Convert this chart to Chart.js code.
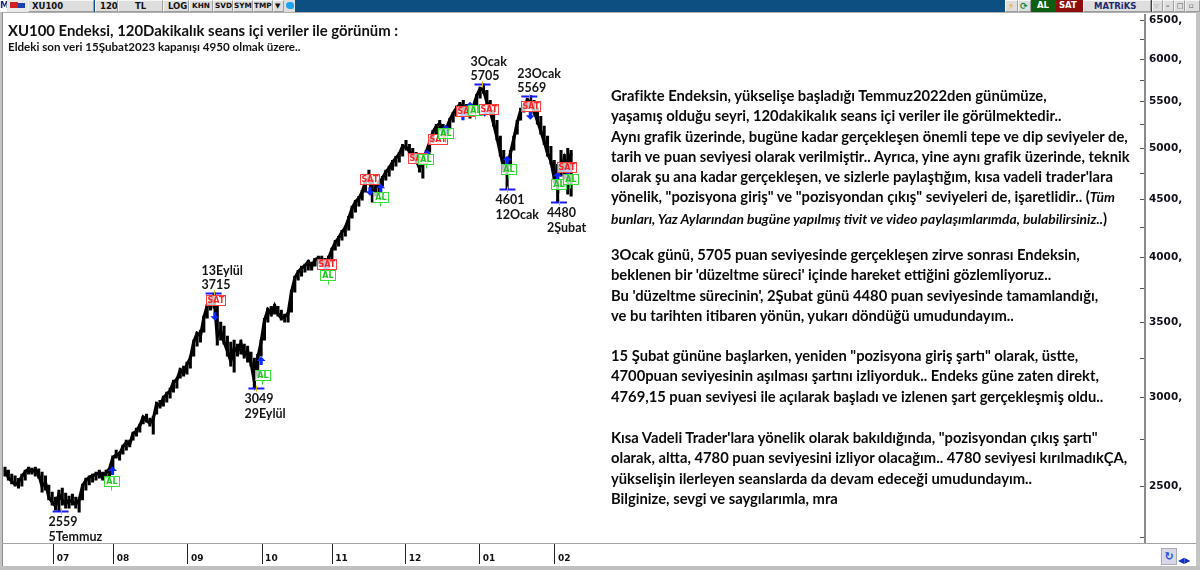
<!DOCTYPE html>
<html lang="tr">
<head>
<meta charset="utf-8">
<title>XU100 120dk</title>
<script src="https://cdn.jsdelivr.net/npm/chart.js@4.4.1/dist/chart.umd.min.js"></script>
<style>
  html,body{margin:0;padding:0;background:#fff;}
  body{width:1200px;height:586px;position:relative;overflow:hidden;}
  #c{position:absolute;left:0;top:0;z-index:1;}
  .ov{position:absolute;z-index:2;}
  .tb{position:absolute;top:0;height:12px;box-sizing:border-box;font:bold 8.5px "DejaVu Sans",sans-serif;line-height:10px;color:#111;white-space:nowrap;overflow:hidden;z-index:3;}
  .sm{font-size:7.3px;}
  .gb{background:#dedede;border:1px solid #9c9c9c;border-top-color:#f6f6f6;border-left-color:#f6f6f6;}
  .t{position:absolute;font-family:Lato,sans-serif;font-weight:bold;color:#111;white-space:nowrap;z-index:3;}
  .blk{position:absolute;left:611px;font-family:Lato,sans-serif;font-weight:bold;color:#0a0a0a;font-size:14.75px;line-height:20.3px;white-space:nowrap;z-index:3;}
  .it{font-style:italic;}
</style>
</head>
<body>
<!-- top toolbar -->
<div class="tb" style="left:0;width:1200px;background:#0c4f80;"></div>
<div class="tb" style="left:0;width:7px;background:#fff;color:#1c2a80;font-size:9px;padding-left:0;">M</div>
<div class="tb" style="left:7px;width:21px;background:#e8e8e8;"><div style="position:absolute;left:3px;top:2px;width:8px;height:6px;background:#d02020;"></div><div style="position:absolute;left:11px;top:3px;width:7px;height:5px;background:#2040b0;"></div></div>
<div class="tb gb" style="left:28px;width:66px;padding-left:3px;">XU100</div>
<div class="tb gb" style="left:95px;width:23px;padding-left:4px;">120</div>
<div class="tb gb" style="left:118px;width:45px;padding-left:16px;">TL</div>
<div class="tb gb" style="left:163px;width:26px;padding-left:4px;">LOG</div>
<div class="tb gb sm" style="left:189px;width:24px;padding-left:2px;">KHN</div>
<div class="tb gb sm" style="left:213px;width:20px;padding-left:1px;">SVD</div>
<div class="tb gb sm" style="left:233px;width:20px;padding-left:0px;">SYM</div>
<div class="tb gb sm" style="left:253px;width:20px;padding-left:0px;">TMP</div>
<div class="tb gb" style="left:273px;width:11px;font-size:7px;padding-left:1px;">&#9660;</div>
<div class="tb" style="left:284px;width:11px;background:#dedede;"><div style="position:absolute;left:2px;top:2px;width:8px;height:7px;border-radius:50% 50% 40% 60%;background:#1da1f2;"></div></div>
<div class="tb gb" style="left:1005px;width:13px;color:#f0a000;font-size:9px;padding-left:2px;">&#9889;</div>
<div class="tb gb" style="left:1018px;width:13px;color:#0a8a3a;font-size:9px;padding-left:1px;">&#10227;</div>
<div class="tb" style="left:1032px;width:24px;background:#0e5e12;color:#fff;padding-left:5px;">AL</div>
<div class="tb" style="left:1056px;width:27px;background:#8e0d0d;color:#fff;padding-left:3px;">SAT</div>
<div class="tb gb" style="left:1083px;width:68px;color:#1e2a6e;padding-left:10px;">MATRiKS</div>
<div class="tb gb" style="left:1152px;width:11px;color:#999;font-size:6px;padding-left:1px;">&#9661;</div>
<div class="tb gb" style="left:1163px;width:11px;color:#555;font-size:7px;padding-left:2px;">&#8211;</div>
<div class="tb gb" style="left:1174px;width:11px;color:#555;font-size:7px;padding-left:2px;">&#9633;</div>
<div class="tb gb" style="left:1185px;width:15px;color:#555;font-size:7px;padding-left:3px;">&#9643;</div>

<!-- window frame -->
<div class="ov" style="left:0;top:12px;width:1200px;height:1px;background:#b0b0b0;"></div>
<div class="ov" style="left:0;top:12px;width:2px;height:558px;background:#c4c4c4;"></div>
<div class="ov" style="left:2px;top:12px;width:1px;height:555px;background:#8c8c8c;"></div>
<div class="ov" style="left:1196px;top:12px;width:4px;height:558px;background:#c4c4c4;"></div>
<div class="ov" style="left:2px;top:543px;width:1194px;height:1px;background:#a4a4a4;"></div>
<div class="ov" style="left:0;top:566px;width:1200px;height:4px;background:#c0c0c0;"></div>
<div class="ov" style="left:1161px;top:548px;width:16px;height:17px;background:#d8d8e8;border:1px solid #aab;box-sizing:border-box;color:#1f4fd0;font:bold 11px 'DejaVu Sans';text-align:center;line-height:15px;">&#8635;</div>
<div class="ov" style="left:1178px;top:556px;width:17px;height:9px;color:#1030c0;font:8px 'DejaVu Sans';line-height:9px;">&#9664;&#9654;</div>

<!-- titles -->
<div class="t" style="left:8px;top:21px;font-size:14.9px;">XU100 Endeksi, 120Dakikalık seans içi veriler ile görünüm :</div>
<div class="t" style="left:8px;top:40px;font-size:11.6px;">Eldeki son veri 15Şubat2023 kapanışı 4950 olmak üzere..</div>

<!-- commentary -->
<div class="blk" style="top:85px;">
<div>Grafikte Endeksin, yükselişe başladığı Temmuz2022den günümüze,</div>
<div>yaşamış olduğu seyri, 120dakikalık seans içi veriler ile görülmektedir..</div>
<div>Aynı grafik üzerinde, bugüne kadar gerçekleşen önemli tepe ve dip seviyeler de,</div>
<div>tarih ve puan seviyesi olarak verilmiştir.. Ayrıca, yine aynı grafik üzerinde, teknik</div>
<div>olarak şu ana kadar gerçekleşen, ve sizlerle paylaştığım, kısa vadeli trader'lara</div>
<div>yönelik, "pozisyona giriş" ve "pozisyondan çıkış" seviyeleri de, işaretlidir.. (<span class="it" style="font-size:13.8px;">Tüm</span></div>
<div><span class="it" style="font-size:13.8px;">bunları, Yaz Aylarından bugüne yapılmış tivit ve video paylaşımlarımda, bulabilirsiniz..</span>)</div>
</div>
<div class="blk" style="top:244px;">
<div>3Ocak günü, 5705 puan seviyesinde gerçekleşen zirve sonrası Endeksin,</div>
<div>beklenen bir 'düzeltme süreci' içinde hareket ettiğini gözlemliyoruz..</div>
<div>Bu 'düzeltme sürecinin', 2Şubat günü 4480 puan seviyesinde tamamlandığı,</div>
<div>ve bu tarihten itibaren yönün, yukarı döndüğü umudundayım..</div>
</div>
<div class="blk" style="top:345px;">
<div>15 Şubat gününe başlarken, yeniden "pozisyona giriş şartı" olarak, üstte,</div>
<div>4700puan seviyesinin aşılması şartını izliyorduk.. Endeks güne zaten direkt,</div>
<div>4769,15 puan seviyesi ile açılarak başladı ve izlenen şart gerçekleşmiş oldu..</div>
</div>
<div class="blk" style="top:427px;">
<div>Kısa Vadeli Trader'lara yönelik olarak bakıldığında, "pozisyondan çıkış şartı"</div>
<div>olarak, altta, 4780 puan seviyesini izliyor olacağım.. 4780 seviyesi kırılmadıkÇA,</div>
<div>yükselişin ilerleyen seanslarda da devam edeceği umudundayım..</div>
<div>Bilginize, sevgi ve saygılarımla, mra</div>
</div>

<canvas id="c" width="1200" height="586"></canvas>

<script>
// ---- data: one entry per trading day (index 0 = mid June 2022 ... 168 = 15 Feb 2023) ----
const highs = [
 2600,2584,2563,2553,2540,2563,2584,2600,2595,2600,
 2590,2574,2553,2506,2470,2445,2480,2490,2465,2450,
 2460,2445,2440,2511,2542,2553,2563,2574,2584,2574,
 2584,2595,2660,2692,2681,2720,2748,2748,2793,2816,
 2840,2886,2898,2875,2886,2970,2982,3007,3032,3057,
 3107,3120,3185,3198,3224,3264,3373,3429,3443,3543,
 3631,3675,3715,3616,3500,3471,3401,3359,3373,3346,
 3373,3346,3332,3291,3251,3278,3373,3528,3602,3616,
 3631,3616,3587,3558,3573,3737,3846,3893,3926,3942,
 3974,3958,3990,4007,4007,3990,4007,4073,4140,4174,
 4226,4261,4349,4440,4494,4531,4587,4682,4780,4682,
 4644,4682,4721,4780,4819,4878,4918,4959,5040,5082,
 5040,4999,4959,4918,4898,4979,5082,5188,5252,5295,
 5252,5231,5317,5383,5450,5494,5517,5472,5450,5472,
 5585,5668,5705,5631,5517,5406,5295,5125,4979,4878,
 4979,5125,5295,5428,5472,5540,5569,5517,5428,5339,
 5231,5125,5020,4878,4838,4979,4938,4999,4979
];
const lows = [
 2552,2531,2511,2500,2490,2500,2531,2563,2563,2552,
 2542,2470,2480,2430,2405,2380,2375,2405,2390,2390,
 2405,2390,2370,2430,2480,2506,2521,2531,2542,2531,
 2542,2552,2584,2648,2637,2670,2692,2709,2748,2770,
 2793,2840,2851,2828,2782,2898,2934,2946,2970,2995,
 3032,3057,3120,3133,3146,3185,3264,3332,3359,3429,
 3528,3587,3602,3339,3373,3346,3264,3198,3159,3264,
 3278,3251,3224,3198,3057,3133,3264,3373,3500,3543,
 3558,3543,3514,3500,3500,3573,3722,3814,3846,3878,
 3893,3893,3926,3942,3926,3893,3910,3958,4056,4090,
 4140,4174,4226,4331,4385,4440,4494,4568,4663,4476,
 4531,4550,4625,4682,4721,4780,4819,4858,4918,4979,
 4938,4898,4858,4760,4702,4878,4959,5061,5146,5188,
 5125,5103,5188,5274,5339,5406,5383,5339,5317,5361,
 5450,5540,5596,5472,5361,5231,5082,4918,4760,4601,
 4819,4979,5146,5295,5383,5428,5450,5361,5252,5146,
 5040,4918,4838,4663,4480,4721,4625,4550,4531
];
const closes = [
 2580,2545,2525,2510,2520,2550,2575,2590,2575,2585,
 2560,2500,2520,2445,2420,2400,2460,2430,2410,2430,
 2420,2410,2430,2500,2530,2545,2555,2560,2570,2545,
 2570,2590,2650,2665,2670,2710,2735,2725,2785,2800,
 2830,2880,2860,2845,2870,2960,2950,2995,3020,3040,
 3095,3110,3170,3150,3210,3250,3360,3420,3400,3530,
 3620,3650,3690,3400,3440,3360,3300,3230,3320,3290,
 3350,3270,3300,3220,3100,3250,3360,3510,3590,3560,
 3620,3560,3530,3540,3560,3720,3830,3880,3910,3930,
 3960,3920,3980,3990,3950,3920,3990,4060,4120,4160,
 4210,4250,4330,4420,4480,4510,4570,4670,4700,4560,
 4610,4660,4700,4760,4800,4860,4900,4940,5020,5010,
 4970,4930,4880,4800,4880,4960,5060,5170,5230,5260,
 5150,5210,5300,5370,5430,5470,5420,5380,5420,5450,
 5570,5650,5630,5500,5390,5260,5110,4950,4800,4800,
 4950,5100,5270,5400,5440,5520,5480,5390,5290,5180,
 5070,4950,4870,4700,4800,4760,4900,4800,4950
];

// month ticks (bar index of first session of the month) and labels
const monthTickIdx = [14.5, 32.3, 54.3, 76.3, 97.1, 118.9, 140.9, 163.2];
const monthLabels  = ['07', '08', '09', '10', '11', '12', '01', '02'];

// price axis ticks
const yMajorTicks = [2500, 3000, 3500, 4000, 4500, 5000, 5500, 6000, 6500];
const yMinorTicks = [2250, 2750, 3250, 3750, 4250, 4750, 5250, 5750, 6250];

// marked tops / bottoms
const extIdx   = [16.5, 61.9, 74.6, 141.7, 155.6, 149.1, 164.4];
const extPrice = [2377, 3715, 3060, 5705, 5569, 4601, 4480];
const extVal   = ['2559', '3715', '3049', '5705', '5569', '4601', '4480'];
const extDate  = ['5Temmuz', '13Eylül', '29Eylül', '3Ocak', '23Ocak', '12Ocak', '2Şubat'];
const extSide  = ['below', 'above', 'below', 'above', 'above', 'below', 'below'];

// entry / exit signal labels
const sigIdx   = [31.5, 62.6, 76.3, 95.5, 95.8, 108.3, 111.3, 122.3, 124.9, 128.2, 130.6, 136.8, 139.5, 143.6, 149.3, 155.8, 166.5, 164.4, 167.7];
const sigPrice = [2526, 3661, 3140, 3942, 3854, 4691, 4522, 4898, 4888, 5093, 5156, 5395, 5406, 5417, 4790, 5450, 4810, 4644, 4692];
const sigType  = ['AL','SAT','AL','SAT','AL','SAT','AL','SAT','AL','SAT','AL','SAT','AL','SAT','AL','SAT','SAT','AL','AL'];

// signal arrows
const arrIdx   = [31.9, 62.3, 76.0, 95.3, 108.3, 111.5, 125.2, 130.8, 135.9, 138.0, 142.3, 149.0, 155.9, 164.0, 167.0];
const arrPrice = [2579, 3543, 3231, 3934, 4578, 4606, 4938, 5199, 5339, 5450, 5383, 4878, 5350, 4721, 4770];
const arrDir   = ['up','down','up','down','down','up','up','up','up','up','down','up','down','up','up'];

const barData = highs.map((h, i) => ({ x: i, y: [lows[i], h] }));
const closeData = closes.map((c, i) => ({ x: i, y: c }));

function drawArrow(ctx, px, py, dir) {
  const s = dir === 'up' ? -1 : 1;
  ctx.fillStyle = '#0a26ff';
  ctx.beginPath();
  ctx.moveTo(px, py + s * 4.5);
  ctx.lineTo(px - 4.5, py);
  ctx.lineTo(px - 1.6, py);
  ctx.lineTo(px - 1.6, py - s * 4);
  ctx.lineTo(px + 1.6, py - s * 4);
  ctx.lineTo(px + 1.6, py);
  ctx.lineTo(px + 4.5, py);
  ctx.closePath();
  ctx.fill();
}
function drawSig(ctx, px, py, type) {
  const w = type === 'SAT' ? 19 : 15, h = 10;
  const l = Math.round(px - w / 2) + 0.5, t = Math.round(py - h / 2) + 0.5;
  const col = type === 'SAT' ? '#ff3c3c' : '#35e035';
  ctx.fillStyle = 'rgba(255,255,255,0.75)';
  ctx.fillRect(l, t, w, h);
  ctx.strokeStyle = col; ctx.lineWidth = 1;
  ctx.strokeRect(l, t, w, h);
  if (type === 'AL') {
    ctx.beginPath(); ctx.moveTo(Math.round(px) + 0.5, t + h); ctx.lineTo(Math.round(px) + 0.5, t + h + 4); ctx.stroke();
  }
  ctx.fillStyle = type === 'SAT' ? '#ff2424' : '#1ec81e';
  ctx.font = 'bold 8px "DejaVu Sans", sans-serif';
  ctx.textAlign = 'center'; ctx.textBaseline = 'middle';
  ctx.fillText(type, l + w / 2, t + h / 2 + 0.5);
}

const annot = {
  id: 'annot',
  afterDatasetsDraw(chart) {
    const { ctx, scales: { x, y } } = chart;
    ctx.save();
    for (let k = 0; k < extIdx.length; k++) {
      const px = x.getPixelForValue(extIdx[k]);
      const py = Math.round(y.getPixelForValue(extPrice[k])) + 0.5;
      ctx.strokeStyle = '#1a1aff'; ctx.lineWidth = 2;
      ctx.beginPath(); ctx.moveTo(px - 8, py); ctx.lineTo(px + 8, py); ctx.stroke();
      ctx.strokeStyle = '#d4b800'; ctx.lineWidth = 1;
      ctx.beginPath(); ctx.moveTo(Math.round(px) + 0.5, py - 3); ctx.lineTo(Math.round(px) + 0.5, py + 3); ctx.stroke();
      ctx.fillStyle = '#151515';
      ctx.font = 'bold 12.5px Lato, sans-serif';
      ctx.textAlign = 'left'; ctx.textBaseline = 'middle';
      const tx = px - 12;
      if (extSide[k] === 'above') {
        ctx.fillText(extDate[k], tx, py - 23);
        ctx.fillText(extVal[k], tx, py - 9);
      } else {
        ctx.fillText(extVal[k], tx, py + 10);
        ctx.fillText(extDate[k], tx, py + 25);
      }
    }
    for (let k = 0; k < arrIdx.length; k++) {
      drawArrow(ctx, x.getPixelForValue(arrIdx[k]), y.getPixelForValue(arrPrice[k]), arrDir[k]);
    }
    for (let k = 0; k < sigIdx.length; k++) {
      drawSig(ctx, x.getPixelForValue(sigIdx[k]), y.getPixelForValue(sigPrice[k]), sigType[k]);
    }
    ctx.restore();
  }
};

new Chart(document.getElementById('c'), {
  type: 'bar',
  data: {
    datasets: [{
      type: 'line',
      data: closeData,
      borderColor: '#000',
      borderWidth: 3.2,
      pointRadius: 0,
      tension: 0,
      order: 0
    }, {
      type: 'bar',
      data: barData,
      backgroundColor: '#000',
      borderWidth: 0,
      barThickness: 2.4,
      grouped: false,
      order: 1
    }]
  },
  options: {
    responsive: false,
    animation: false,
    devicePixelRatio: 1,
    layout: { padding: { left: 2, top: 15, right: 0, bottom: 19 } },
    plugins: { legend: { display: false }, tooltip: { enabled: false } },
    scales: {
      x: {
        type: 'linear',
        position: 'bottom',
        offset: false,
        min: -0.89,
        max: 338.3,
        afterBuildTicks: (s) => { s.ticks = monthTickIdx.map(v => ({ value: v })); },
        afterFit: (s) => { s.height = 24; },
        grid: { display: true, drawOnChartArea: false, offset: false, drawTicks: true, tickLength: 21, color: '#222', lineWidth: 1 },
        border: { display: false },
        ticks: {
          autoSkip: false, maxRotation: 0, align: 'start', labelOffset: 3, padding: -11,
          color: '#111', font: { family: 'DejaVu Sans', weight: 'bold', size: 9 },
          callback: (v, i) => monthLabels[i]
        }
      },
      y: {
        type: 'logarithmic',
        position: 'right',
        min: 2225,
        max: 6567,
        afterBuildTicks: (s) => {
          s.ticks = yMajorTicks.concat(yMinorTicks).sort((a, b) => a - b).map(v => ({ value: v }));
        },
        afterFit: (s) => { s.width = 55; },
        grid: { display: true, drawOnChartArea: false, drawTicks: true, tickLength: -5, color: '#555', lineWidth: 1 },
        border: { display: true, color: '#8a8a8a', width: 2 },
        ticks: {
          autoSkip: false, padding: 9, crossAlign: 'near',
          color: '#10101c', font: { family: 'DejaVu Sans', weight: 'bold', size: 10.5 },
          callback: (v) => yMajorTicks.includes(v) ? v + ',' : ''
        }
      }
    }
  },
  plugins: [annot]
});
</script>
</body>
</html>
